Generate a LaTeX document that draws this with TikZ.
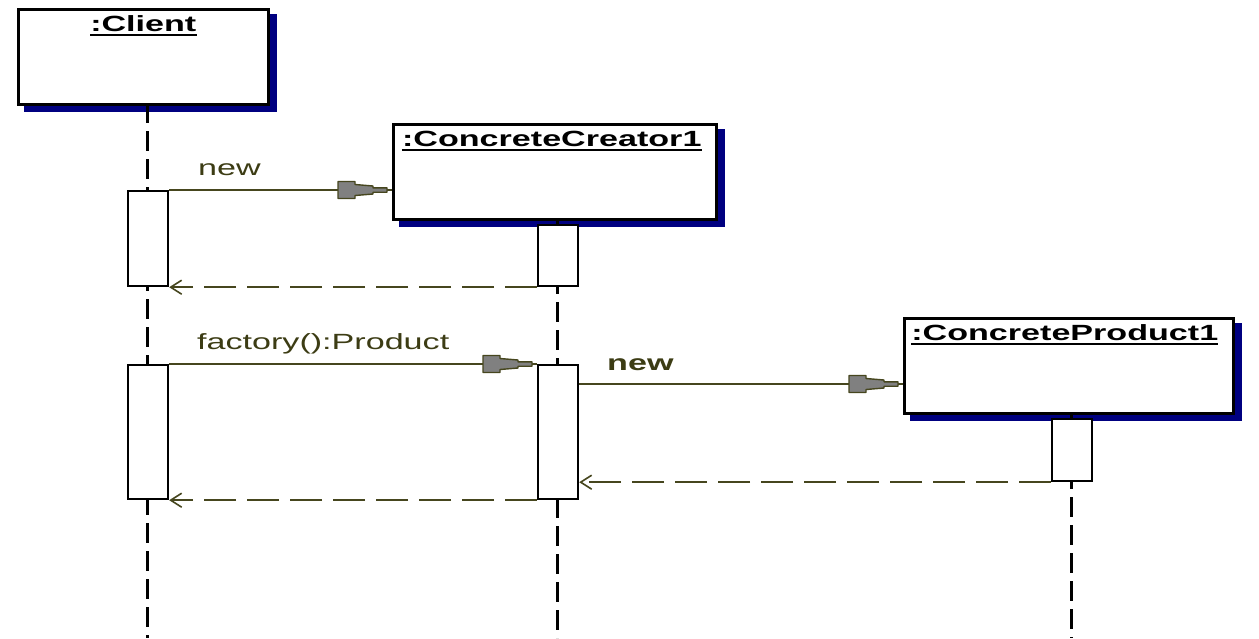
\documentclass[tikz,border=0pt]{standalone}
\usepackage{fontspec}
\setmainfont{Liberation Sans}
\newfontfamily\umlfont[FakeStretch=1.55]{Liberation Sans}
\usetikzlibrary{arrows.meta,calc,backgrounds}
\definecolor{olivel}{RGB}{70,70,30}
\definecolor{olivet}{RGB}{60,60,20}
\definecolor{shadowblue}{RGB}{0,0,128}
\definecolor{headgray}{RGB}{128,128,128}
\begin{document}
\begin{tikzpicture}[x=1pt,y=-1pt,
 obj/.style={draw=black, line width=2.6pt, fill=white, rectangle, minimum height=95pt, inner sep=0pt, anchor=north west},
 act/.style={draw=black, line width=2.2pt, fill=white, rectangle, minimum width=40pt, inner sep=0pt, anchor=north west},
 lifeline/.style={draw=black, line width=3pt, dash pattern=on 20pt off 8pt},
 msg/.style={draw=olivel, line width=1.6pt},
 ret/.style={draw=olivel, line width=2pt, dash pattern=on 32pt off 11pt, -{Straight Barb[length=11pt,width=14pt,line width=1.6pt]}},
 title/.style={font=\umlfont\bfseries\fontsize{22}{26}\selectfont, anchor=base, inner sep=0pt},
 lbl/.style={font=\umlfont\fontsize{22}{26}\selectfont, text=olivet, anchor=base west, inner sep=0pt},
 lblb/.style={lbl, font=\umlfont\bfseries\fontsize{22}{26}\selectfont},
 uline/.style={draw=black, line width=2pt},
 head/.pic={\filldraw[fill=headgray, draw=olivel, line width=1.4pt, line join=round]
   (-54,-8.5) -- (-37,-8.5) -- (-37,-5.5) -- (-19,-4) -- (-19,-2.2) -- (-5,-2.2) -- (-5,2.2) -- (-19,2.2) -- (-19,4) -- (-37,5.5) -- (-37,8.5) -- (-54,8.5) -- cycle;}
]
\useasboundingbox (0,0) rectangle (1259,638);

% objects
\node[obj, minimum width=250pt] (client) at (17,8) {};
\node[obj, minimum width=323pt] (creator) at (392,123) {};
\node[obj, minimum width=329pt] (product) at (903,317) {};

% titles
\node[title] (tclient) at ($(client.north)+(0,23)$) {:Client};
\node[title] (tcreator) at ($(creator.north)+(-3,23)$) {:ConcreteCreator1};
\node[title] (tproduct) at ($(product.north)+(-4,23)$) {:ConcreteProduct1};
\draw[uline] ($(tclient.base west)+(0,4)$) -- ($(tclient.base east)+(0,4)$);
\draw[uline] ($(tcreator.base west)+(0,4)$) -- ($(tcreator.base east)+(0,4)$);
\draw[uline] ($(tproduct.base west)+(0,4)$) -- ($(tproduct.base east)+(0,4)$);

% lifeline ends
\coordinate (cl0) at (147,103);
\coordinate (cl1) at (147,638);
\coordinate (cr0) at (557,218);
\coordinate (cr1e) at (557,638);
\coordinate (pr0) at (1071,413);
\coordinate (pr1) at (1071,638);

% activations
\node[act, minimum height=95pt] (ca1) at (127,190) {};
\node[act, minimum height=61pt] (cra1) at (537,224) {};
\node[act, minimum height=134pt] (ca2) at (127,364) {};
\node[act, minimum height=134pt] (cra2) at (537,364) {};
\node[act, minimum height=62pt] (pa) at (1051,418) {};

\begin{scope}[on background layer]
 \fill[white] (0,0) rectangle (1259,638);
 \fill[shadowblue] ($(client.north west)+(7,6)$) rectangle ($(client.south east)+(7,6)$);
 \fill[shadowblue] ($(creator.north west)+(7,6)$) rectangle ($(creator.south east)+(7,6)$);
 \fill[shadowblue] ($(product.north west)+(7,6)$) rectangle ($(product.south east)+(7,6)$);
 \draw[lifeline] (cl0) -- (cl1);
 \draw[lifeline] (cr0) -- (cr1e);
 \draw[lifeline] (pr0) -- (pr1);
\end{scope}

% messages
\coordinate (m3s) at ($(cra2.north east)+(0,20)$);
\draw[msg] (ca1.north east) -- (ca1.north east -| creator.west);
\pic at (ca1.north east -| creator.west) {head};
\draw[msg] (ca2.north east) -- (cra2.north west);
\pic at (cra2.north west) {head};
\draw[msg] (m3s) -- (m3s -| product.west);
\pic at (m3s -| product.west) {head};

% returns
\draw[ret] (cra1.south west) -- (ca1.south east);
\draw[ret] (pa.south west) -- (pa.south west -| cra2.east);
\draw[ret] (cra2.south west) -- (ca2.south east);

% labels
\node[lbl] (l1) at (198,175) {new};
\node[lbl] (l2) at (197,349) {factory():Product};
\node[lblb] (l3) at (607,370) {new};
\end{tikzpicture}
\end{document}
